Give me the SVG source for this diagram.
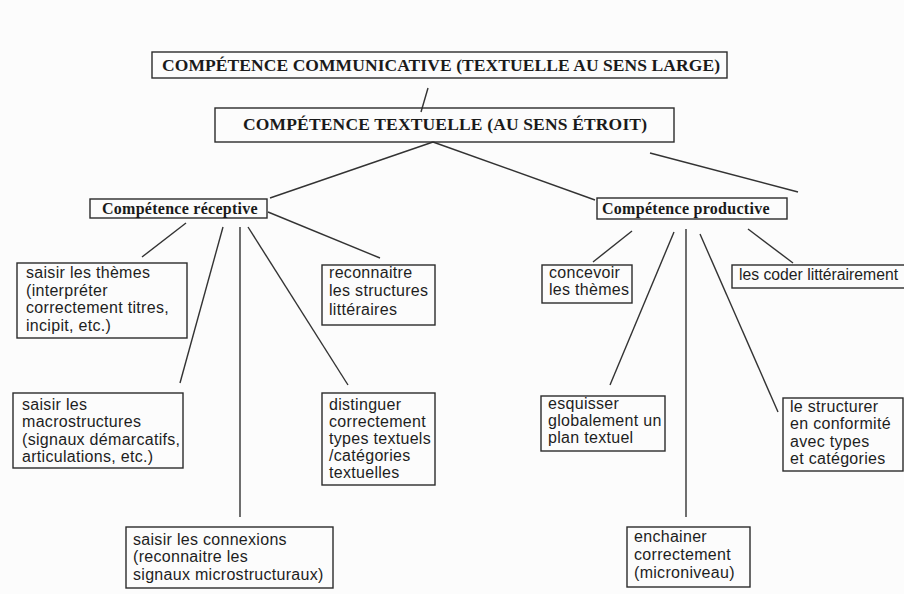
<svg xmlns="http://www.w3.org/2000/svg" width="904" height="594" viewBox="0 0 904 594">
  <style>
    .box { fill: none; stroke: #2b2b2b; stroke-width: 1.4; }
    .link { stroke: #333; stroke-width: 1.4; fill: none; }
    .head { font-family: "Liberation Serif", "Times New Roman", serif; font-weight: bold; font-size: 17.5px; fill: #1a1a1a; }
    .sub { font-family: "Liberation Serif", "Times New Roman", serif; font-weight: bold; font-size: 16px; letter-spacing: 0.4px; fill: #1a1a1a; }
    .txt { font-family: "Liberation Sans", Arial, sans-serif; font-size: 16px; letter-spacing: 0.3px; fill: #1e1e1e; }
    .tight { letter-spacing: 0; }
  </style>
  <rect width="904" height="594" fill="#fcfcfc"/>

  <g id="connectors">
    <line class="link" x1="428" y1="88" x2="421" y2="112"/>
    <line class="link" x1="433" y1="142" x2="270" y2="198"/>
    <line class="link" x1="433" y1="142" x2="595" y2="200"/>
    <line class="link" x1="650" y1="153" x2="798" y2="192"/>
    <line class="link" x1="186" y1="223" x2="142" y2="257"/>
    <line class="link" x1="223" y1="227" x2="180" y2="383"/>
    <line class="link" x1="240" y1="227" x2="240" y2="517"/>
    <line class="link" x1="248" y1="227" x2="348" y2="385"/>
    <line class="link" x1="268" y1="212" x2="380" y2="258"/>
    <line class="link" x1="632" y1="231" x2="593" y2="262"/>
    <line class="link" x1="674" y1="232" x2="610" y2="385"/>
    <line class="link" x1="686" y1="229" x2="686" y2="517"/>
    <line class="link" x1="700" y1="234" x2="778" y2="412"/>
    <line class="link" x1="748" y1="229" x2="793" y2="263"/>
  </g>

  <g id="competence-communicative">
    <rect class="box" x="152" y="52" width="575" height="26"/>
    <text class="head" x="162" y="71" textLength="558">COMPÉTENCE COMMUNICATIVE (TEXTUELLE AU SENS LARGE)</text>
  </g>

  <g id="competence-textuelle">
    <rect class="box" x="215" y="108" width="459" height="34"/>
    <text class="head" x="243" y="130" textLength="404">COMPÉTENCE TEXTUELLE (AU SENS ÉTROIT)</text>
  </g>

  <g id="competence-receptive">
    <rect class="box" x="90" y="199" width="177" height="19"/>
    <text class="sub" x="102" y="213.5" textLength="156">Compétence réceptive</text>
  </g>

  <g id="competence-productive">
    <rect class="box" x="597" y="198" width="190" height="21"/>
    <text class="sub" x="602" y="214" textLength="168">Compétence productive</text>
  </g>

  <g id="saisir-themes">
    <rect class="box" x="17" y="263" width="170" height="75"/>
    <text class="txt" x="26" y="278">saisir les thèmes</text>
    <text class="txt" x="26" y="296">(interpréter</text>
    <text class="txt" x="26" y="313">correctement titres,</text>
    <text class="txt" x="26" y="331">incipit, etc.)</text>
  </g>

  <g id="reconnaitre-structures">
    <rect class="box" x="322" y="265" width="113" height="60"/>
    <text class="txt" x="329" y="278">reconnaitre</text>
    <text class="txt" x="329" y="296">les structures</text>
    <text class="txt" x="329" y="315">littéraires</text>
  </g>

  <g id="saisir-macrostructures">
    <rect class="box" x="13" y="393" width="170" height="75"/>
    <text class="txt" x="22" y="410">saisir les</text>
    <text class="txt" x="22" y="427">macrostructures</text>
    <text class="txt" x="22" y="445">(signaux démarcatifs,</text>
    <text class="txt" x="22" y="462">articulations, etc.)</text>
  </g>

  <g id="distinguer-types">
    <rect class="box" x="322" y="393" width="113" height="92"/>
    <text class="txt" x="329" y="410">distinguer</text>
    <text class="txt" x="329" y="427">correctement</text>
    <text class="txt" x="329" y="444">types textuels</text>
    <text class="txt" x="329" y="461">/catégories</text>
    <text class="txt" x="329" y="478">textuelles</text>
  </g>

  <g id="saisir-connexions">
    <rect class="box" x="126" y="527" width="207" height="61"/>
    <text class="txt" x="133" y="545">saisir les connexions</text>
    <text class="txt" x="133" y="562">(reconnaitre les</text>
    <text class="txt" x="133" y="580">signaux microstructuraux)</text>
  </g>

  <g id="concevoir-themes">
    <rect class="box" x="542" y="265" width="90" height="38"/>
    <text class="txt" x="549" y="278">concevoir</text>
    <text class="txt" x="549" y="295">les thèmes</text>
  </g>

  <g id="coder-litterairement">
    <rect class="box" x="732" y="265" width="180" height="23"/>
    <text class="txt tight" x="739" y="280" textLength="159" lengthAdjust="spacingAndGlyphs">les coder littérairement</text>
  </g>

  <g id="esquisser-plan">
    <rect class="box" x="541" y="396" width="124" height="55"/>
    <text class="txt" x="548" y="409">esquisser</text>
    <text class="txt" x="548" y="426">globalement un</text>
    <text class="txt" x="548" y="443">plan textuel</text>
  </g>

  <g id="structurer-conformite">
    <rect class="box" x="783" y="398" width="120" height="73"/>
    <text class="txt" x="790" y="412">le structurer</text>
    <text class="txt" x="790" y="429">en conformité</text>
    <text class="txt" x="790" y="447">avec types</text>
    <text class="txt" x="790" y="464">et catégories</text>
  </g>

  <g id="enchainer-correctement">
    <rect class="box" x="627" y="527" width="123" height="60"/>
    <text class="txt" x="634" y="542">enchainer</text>
    <text class="txt" x="634" y="560">correctement</text>
    <text class="txt" x="634" y="578">(microniveau)</text>
  </g>
</svg>
